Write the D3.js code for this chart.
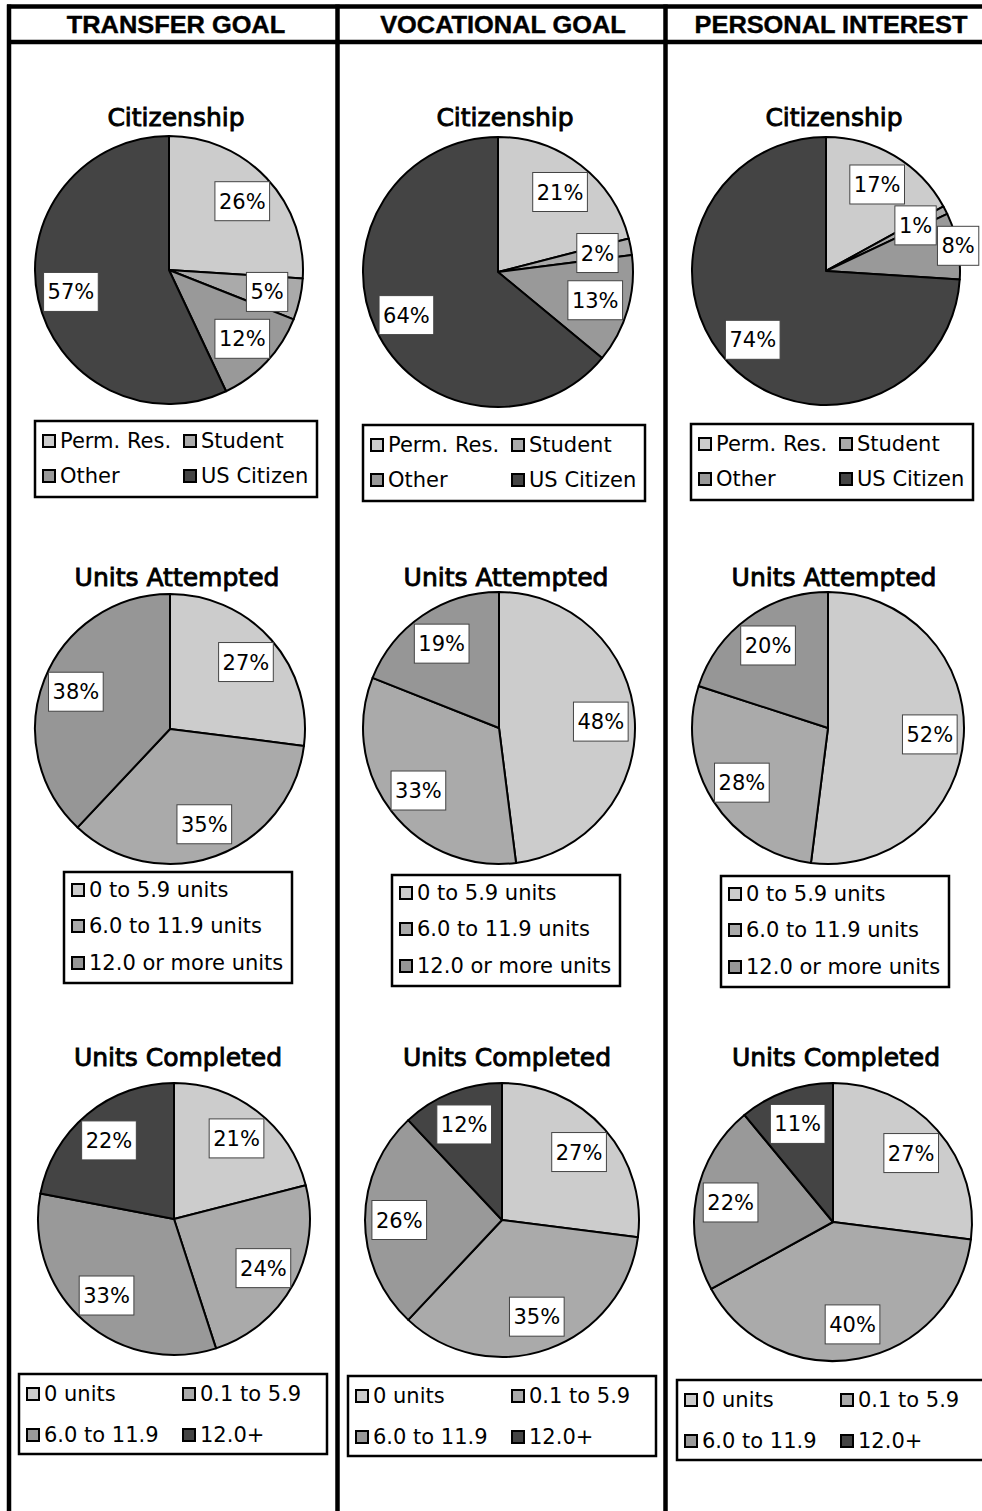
<!DOCTYPE html>
<html>
<head>
<meta charset="utf-8">
<script src="https://cdn.jsdelivr.net/npm/d3@7/dist/d3.min.js"></script>
<style>
  body { margin: 0; background: #fff; }
  svg { display: block; }
</style>
</head>
<body>
<div id="canvas"></div>
<script>
// data
var goals = ["TRANSFER GOAL", "VOCATIONAL GOAL", "PERSONAL INTEREST"];

var citizenshipCats = ["Perm. Res.", "Student", "Other", "US Citizen"];
var citizenshipValues = [[26, 5, 12, 57], [21, 2, 13, 64], [17, 1, 8, 74]];

var attemptedCats = ["0 to 5.9 units", "6.0 to 11.9 units", "12.0 or more units"];
var attemptedValues = [[27, 35, 38], [48, 33, 19], [52, 28, 20]];

var completedCats = ["0 units", "0.1 to 5.9", "6.0 to 11.9", "12.0+"];
var completedValues = [[21, 24, 33, 22], [27, 35, 26, 12], [27, 40, 22, 11]];

// layout of the three rows of pies
var rows = [
  { title: "Citizenship", cats: citizenshipCats, values: citizenshipValues,
    colors: ["#cccccc", "#aaaaaa", "#999999", "#444444"],
    titleX: [176, 505, 834], titleY: 126,
    cx: [169, 498, 826], cy: [270, 272, 271], r: [134, 135, 134],
    lx: [35, 363, 691], ly: [421, 425, 424], lw: 282, lh: 76,
    nCols: 2, colDx: 141, rowBase: [27, 62] },
  { title: "Units Attempted", cats: attemptedCats, values: attemptedValues,
    colors: ["#cccccc", "#aaaaaa", "#969696"],
    titleX: [177, 506, 834], titleY: 586,
    cx: [170, 499, 828], cy: [729, 728, 728], r: [135, 136, 136],
    lx: [64, 392, 721], ly: [872, 875, 876], lw: 228, lh: 111,
    nCols: 1, colDx: 0, rowBase: [25, 61, 98] },
  { title: "Units Completed", cats: completedCats, values: completedValues,
    colors: ["#cccccc", "#aaaaaa", "#999999", "#444444"],
    titleX: [178, 507, 836], titleY: 1066,
    cx: [174, 502, 833], cy: [1219, 1220, 1222], r: [136, 137, 139],
    lx: [19, 348, 677], ly: [1374, 1376, 1380], lw: 308, lh: 80,
    nCols: 2, colDx: 156, rowBase: [27, 68] }
];

var W = 982, H = 1511;
var colCenter = [176, 503, 831];

var svg = d3.select("#canvas")
  .append("svg")
  .attr("width", W)
  .attr("height", H);

// header + column frame
var frame = svg.append("g").attr("stroke", "#000").attr("stroke-width", 4.5);
frame.append("line").attr("x1", 7).attr("x2", W).attr("y1", 6.5).attr("y2", 6.5);
frame.append("line").attr("x1", 7).attr("x2", W).attr("y1", 42).attr("y2", 42);
[9, 337.5, 665.5].forEach(function(x) {
  frame.append("line").attr("x1", x).attr("x2", x).attr("y1", 4.5).attr("y2", H);
});

svg.selectAll("text.goal")
  .data(goals)
  .enter()
  .append("text")
  .attr("class", "goal")
  .attr("transform", function(d, i) { return "translate(" + colCenter[i] + ",33) scale(1.08,1)"; })
  .attr("text-anchor", "middle")
  .attr("font-family", "Liberation Sans, Arial, sans-serif")
  .attr("font-weight", "bold")
  .attr("font-size", "23.5px")
  .attr("stroke", "#000")
  .attr("stroke-width", 0.4)
  .text(function(d) { return d; });

var pie = d3.pie().sort(null).value(function(d) { return d; });
var placed = [];

function overlaps(b) {
  return placed.some(function(p) {
    return b.x < p.x + p.w && b.x + b.w > p.x && b.y < p.y + p.h && b.y + b.h > p.y;
  });
}

rows.forEach(function(row) {
  goals.forEach(function(goal, ci) {
    var g = svg.append("g");
    var R = row.r[ci];
    var arc = d3.arc().innerRadius(0).outerRadius(R);
    var color = d3.scaleOrdinal().domain(row.cats).range(row.colors);

    g.append("text")
      .attr("x", row.titleX[ci])
      .attr("y", row.titleY)
      .attr("text-anchor", "middle")
      .attr("font-family", "DejaVu Sans, sans-serif")
      .attr("font-size", "25px")
      .attr("stroke", "#000")
      .attr("stroke-width", 0.9)
      .text(row.title);

    var arcs = pie(row.values[ci]);
    var pg = g.append("g").attr("transform", "translate(" + row.cx[ci] + "," + row.cy[ci] + ")");
    pg.selectAll("path")
      .data(arcs)
      .enter()
      .append("path")
      .attr("d", arc)
      .attr("fill", function(d, i) { return color(row.cats[i]); })
      .attr("stroke", "#000")
      .attr("stroke-width", 2)
      .attr("stroke-linejoin", "round");

    // value labels in white boxes
    placed = [];
    arcs.forEach(function(d) {
      var a = (d.startAngle + d.endAngle) / 2;
      var lab = pg.append("g");
      var t = lab.append("text")
        .attr("text-anchor", "middle")
        .attr("font-family", "DejaVu Sans, sans-serif")
        .attr("font-size", "21px")
        .attr("dy", "0.36em")
        .text(d.value + "%");
      var tw = t.node().getComputedTextLength();
      var bw = tw + 8, bh = 39;
      var rr = R * 0.75, box;
      for (var k = 0; k < 40; k++) {
        var x = rr * Math.sin(a), y = -rr * Math.cos(a);
        box = { x: x - bw / 2, y: y - bh / 2, w: bw, h: bh, cx: x, cy: y };
        if (!overlaps(box)) break;
        rr += 2;
      }
      placed.push(box);
      lab.insert("rect", "text")
        .attr("x", box.x).attr("y", box.y)
        .attr("width", bw).attr("height", bh)
        .attr("fill", "#fff")
        .attr("stroke", "#444")
        .attr("stroke-width", 1);
      t.attr("x", box.cx).attr("y", box.cy);
    });

    // legend
    var lg = g.append("g").attr("transform", "translate(" + row.lx[ci] + "," + row.ly[ci] + ")");
    lg.append("rect")
      .attr("width", row.lw).attr("height", row.lh)
      .attr("fill", "#fff")
      .attr("stroke", "#000")
      .attr("stroke-width", 2.5);
    var items = lg.selectAll("g.item")
      .data(row.cats)
      .enter()
      .append("g")
      .attr("class", "item")
      .attr("transform", function(d, i) {
        var c = i % row.nCols, r = Math.floor(i / row.nCols);
        return "translate(" + (8 + c * row.colDx) + "," + row.rowBase[r] + ")";
      });
    items.append("rect")
      .attr("x", 0).attr("y", -13)
      .attr("width", 12).attr("height", 12)
      .attr("fill", function(d) { return color(d); })
      .attr("stroke", "#000")
      .attr("stroke-width", 2);
    items.append("text")
      .attr("x", 17)
      .attr("font-family", "DejaVu Sans, sans-serif")
      .attr("font-size", "21px")
      .text(function(d) { return d; });
  });
});
</script>
</body>
</html>
